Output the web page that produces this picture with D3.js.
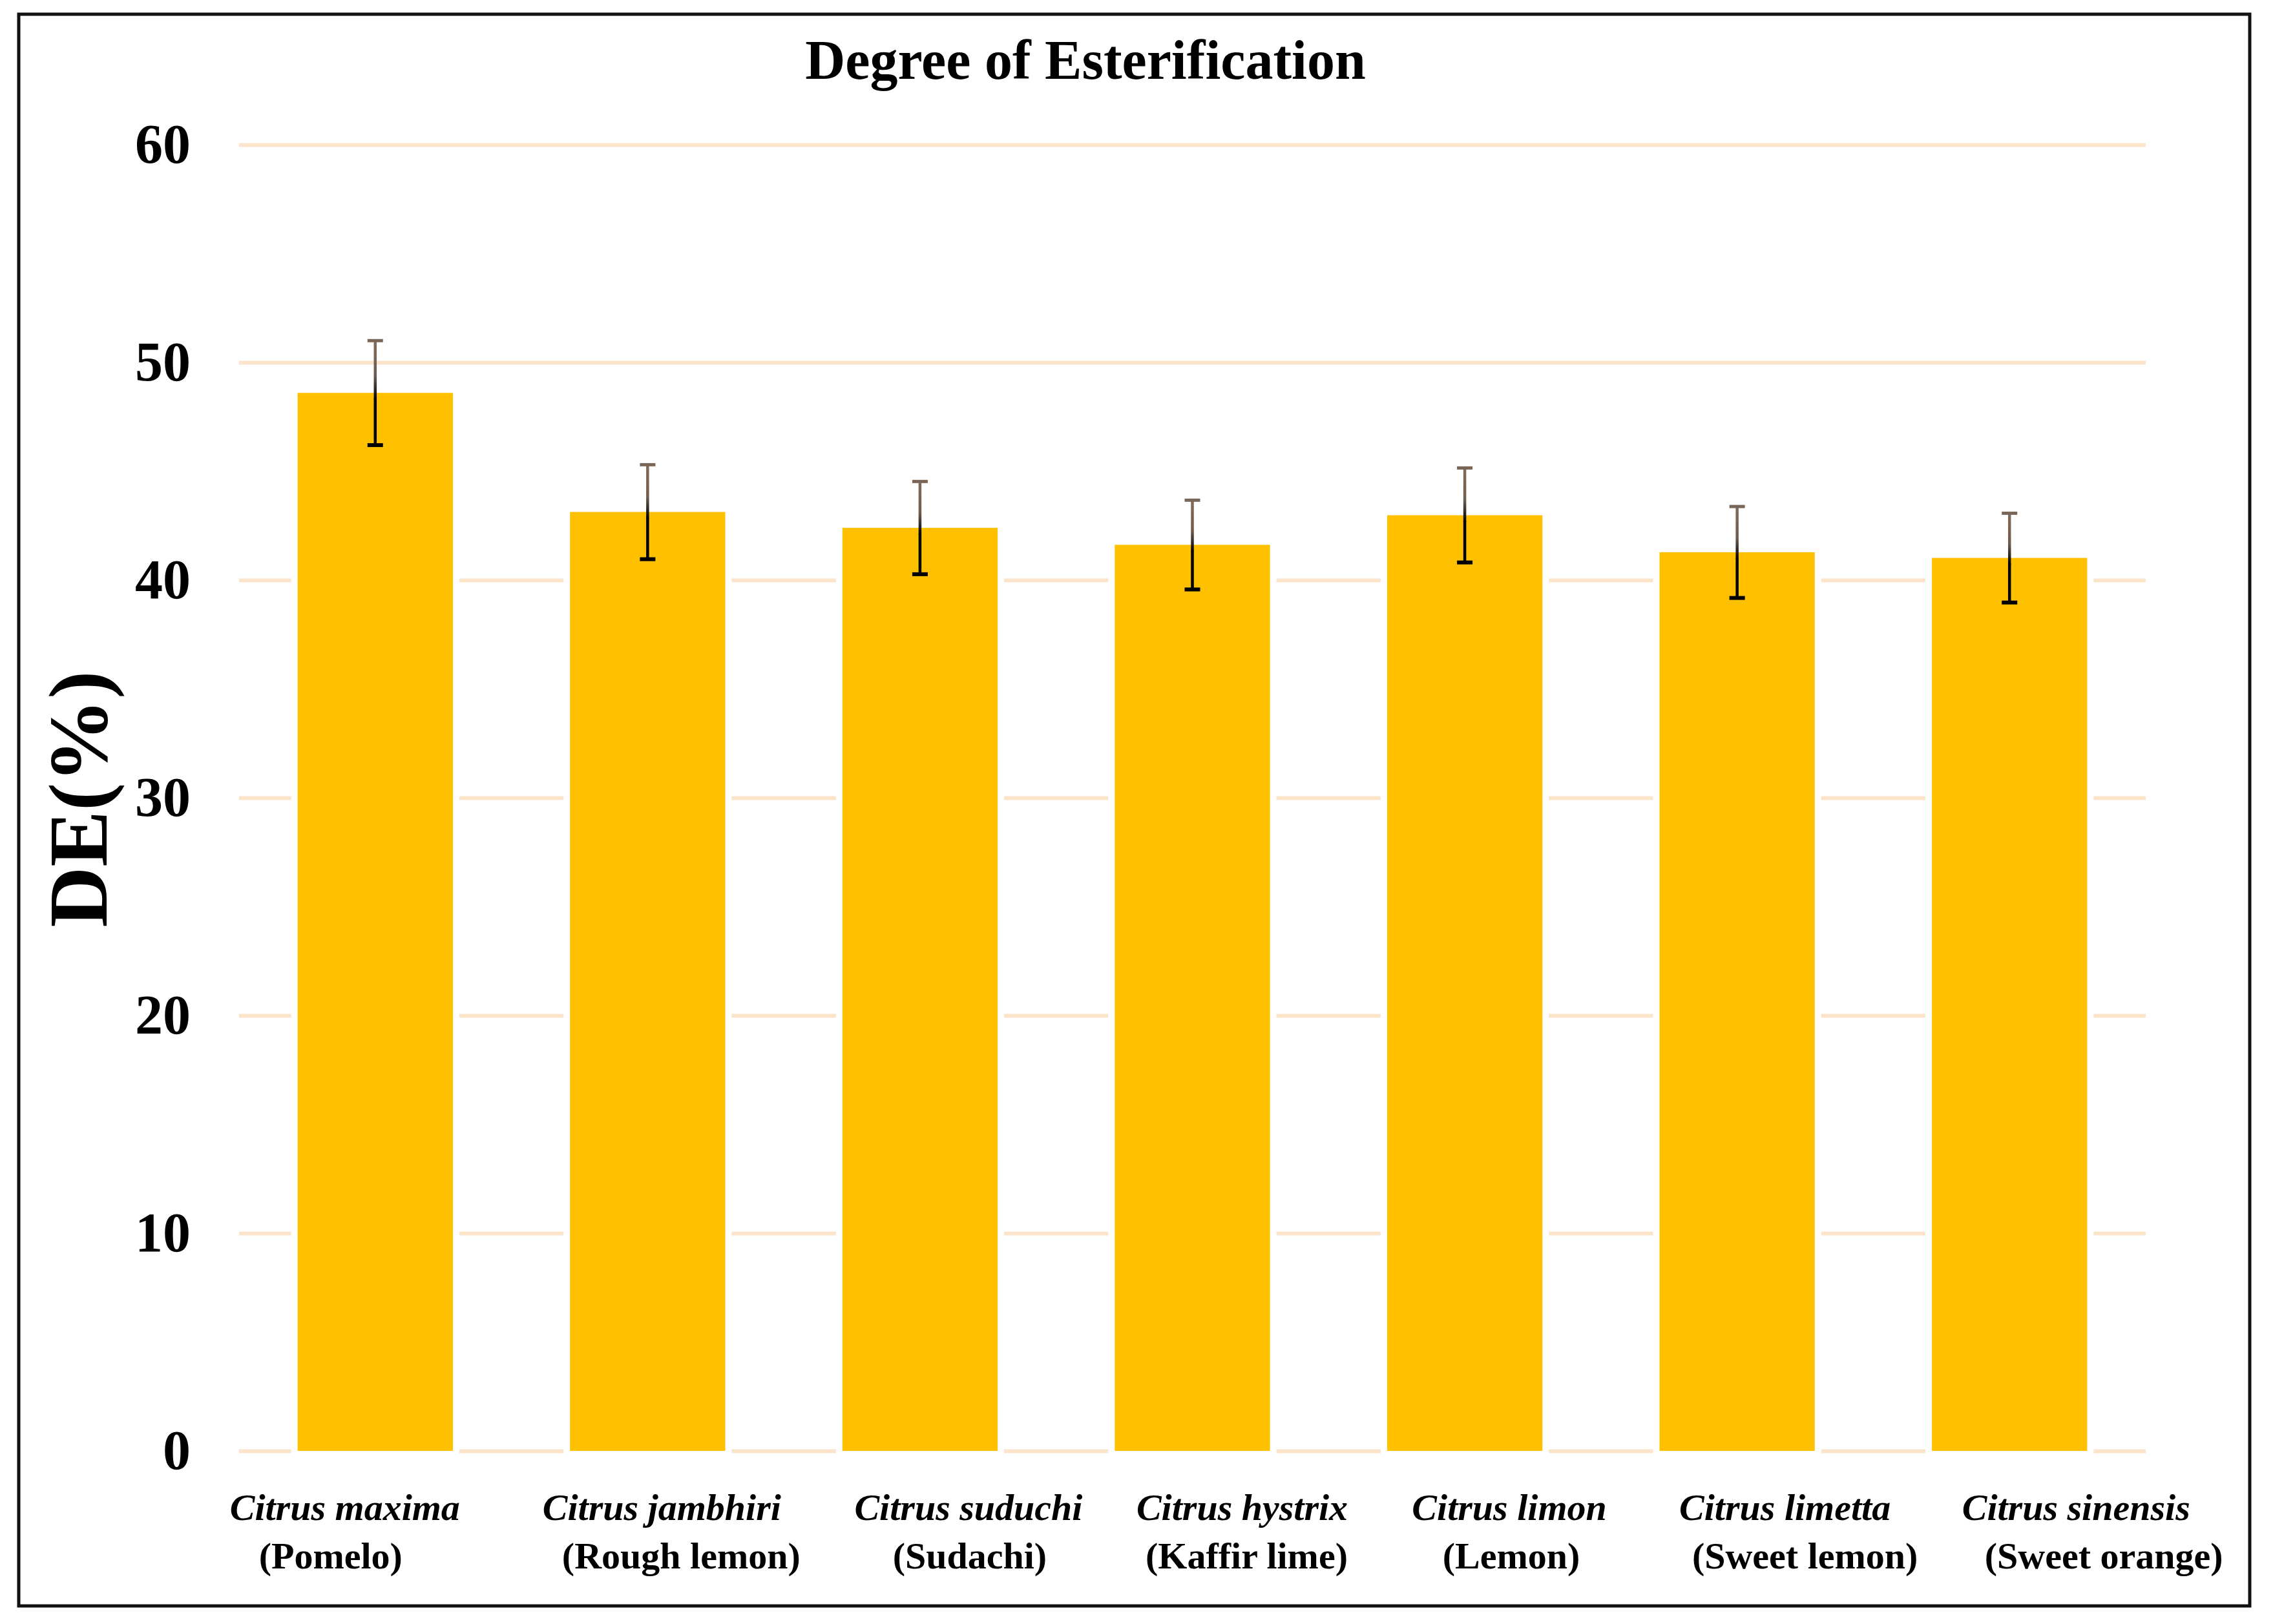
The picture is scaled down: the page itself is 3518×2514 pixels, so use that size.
<!DOCTYPE html>
<html>
  <head>
    <script src="https://d3js.org/d3.v7.min.js" charset="utf-8"></script>
    <meta charset="UTF-8">
    <title>Degree of Esterification</title>
    <style>
      body { margin: 0; background: #fff; }
      text { font-family: "Liberation Serif", "Times New Roman", serif; font-weight: bold; }
    </style>
  </head>
  <body>
    <svg class="chart"></svg>
    <script type="text/javascript">

     var width = 3518,
         height = 2514,
         left = 370, right = 3321,
         top0 = 224, bottom0 = 2246;

     // data
     var species = ["Citrus maxima", "Citrus jambhiri", "Citrus suduchi", "Citrus hystrix",
                    "Citrus limon", "Citrus limetta", "Citrus sinensis"];
     var commonNames = ["(Pomelo)", "(Rough lemon)", "(Sudachi)", "(Kaffir lime)",
                        "(Lemon)", "(Sweet lemon)", "(Sweet orange)"];
     var deValues = [48.6, 43.13, 42.4, 41.62, 42.98, 41.28, 41.02];
     var deErrors = [2.4, 2.17, 2.13, 2.05, 2.17, 2.1, 2.05];
     var yTicks = [0, 10, 20, 30, 40, 50, 60];

     // label nudges (the source labels sit a bit off the bar centres)
     var dx1 = [-47, 22, 75, 77, 69, 74, 103],
         dx2 = [-69, 52, 77, 84, 72, 105, 146];

     var svg = d3.select(".chart")
                 .attr("width", width)
                 .attr("height", height)
                 .attr("viewBox", "0 0 " + width + " " + height);

     var defs = svg.append("defs");
     defs.append("filter").attr("id", "glow")
         .attr("x", "-5").attr("y", "-1").attr("width", "11").attr("height", "3")
         .append("feGaussianBlur").attr("stdDeviation", 4);

     svg.append("rect")
        .attr("x", 29).attr("y", 22)
        .attr("width", 3453).attr("height", 2464)
        .attr("fill", "#fff")
        .attr("stroke", "#111")
        .attr("stroke-width", 5);

     var x = d3.scaleBand()
               .domain(species)
               .range([left, right])
               .paddingInner(0.43)
               .paddingOuter(0.215);

     var y = d3.scaleLinear()
               .domain([0, 60])
               .range([bottom0, top0]);

     // gridlines + tick labels
     var yAxis = svg.append("g")
                    .attr("transform", "translate(" + left + ",0)")
                    .call(d3.axisLeft(y)
                            .tickValues(yTicks)
                            .tickSizeInner(-(right - left))
                            .tickSizeOuter(0)
                            .tickPadding(75));
     yAxis.select(".domain").remove();
     yAxis.selectAll(".tick line")
          .attr("stroke", "#FCE4CB")
          .attr("stroke-width", 6);
     yAxis.selectAll(".tick text")
          .attr("fill", "#000")
          .attr("font-size", 86)
          .attr("font-family", "'Liberation Serif', 'Times New Roman', serif")
          .attr("font-weight", "bold");

     var rows = species.map(function(s, i) {
         return {name: s, common: commonNames[i], value: deValues[i], err: deErrors[i], i: i};
     });

     svg.append("g")
        .selectAll("rect")
        .data(rows)
        .enter().append("rect")
        .attr("x", function(d) { return x(d.name); })
        .attr("y", function(d) { return y(d.value); })
        .attr("width", x.bandwidth())
        .attr("height", function(d) { return y(0) - y(d.value); })
        .attr("fill", "#FFC000")
        .attr("stroke", "#fff")
        .attr("stroke-width", 20)
        .style("paint-order", "stroke");

     // error bars
     rows.forEach(function(d) {
         var cx = x(d.name) + x.bandwidth() / 2,
             yHi = y(d.value + d.err),
             yLo = y(d.value - d.err),
             yTop = y(d.value);
         var gid = "eg" + d.i;
         var g = defs.append("linearGradient").attr("id", gid)
                     .attr("gradientUnits", "userSpaceOnUse")
                     .attr("x1", 0).attr("x2", 0)
                     .attr("y1", yHi).attr("y2", yTop + 10);
         g.append("stop").attr("offset", 0).attr("stop-color", "#806c5c");
         g.append("stop").attr("offset", 0.6).attr("stop-color", "#6e5c4e");
         g.append("stop").attr("offset", 1).attr("stop-color", "#000");

         var eb = svg.append("g");
         eb.append("line")
           .attr("x1", cx).attr("x2", cx)
           .attr("y1", yTop).attr("y2", yLo + 4)
           .attr("stroke", "#fff200")
           .attr("stroke-width", 14)
           .attr("filter", "url(#glow)");
         eb.append("line")
           .attr("x1", cx).attr("x2", cx)
           .attr("y1", yHi).attr("y2", yTop + 10)
           .attr("stroke", "url(#" + gid + ")")
           .attr("stroke-width", 4.5);
         eb.append("line")
           .attr("x1", cx).attr("x2", cx)
           .attr("y1", yTop + 9).attr("y2", yLo)
           .attr("stroke", "#000")
           .attr("stroke-width", 4.5);
         eb.append("line")
           .attr("x1", cx - 12).attr("x2", cx + 12)
           .attr("y1", yHi).attr("y2", yHi)
           .attr("stroke", "#7a6656")
           .attr("stroke-width", 5);
         eb.append("line")
           .attr("x1", cx - 12).attr("x2", cx + 12)
           .attr("y1", yLo).attr("y2", yLo)
           .attr("stroke", "#000")
           .attr("stroke-width", 6);
     });

     // category labels, two lines
     var labels = svg.append("g").attr("text-anchor", "middle").attr("font-size", 58);
     labels.selectAll("text.l1")
           .data(rows)
           .enter().append("text")
           .attr("class", "l1")
           .attr("x", function(d) { return x(d.name) + x.bandwidth() / 2 + dx1[d.i]; })
           .attr("y", 2353)
           .attr("font-style", "italic")
           .text(function(d) { return d.name; });
     labels.selectAll("text.l2")
           .data(rows)
           .enter().append("text")
           .attr("class", "l2")
           .attr("x", function(d) { return x(d.name) + x.bandwidth() / 2 + dx2[d.i]; })
           .attr("y", 2428)
           .text(function(d) { return d.common; });

     svg.append("text")
        .attr("x", 1680).attr("y", 122)
        .attr("text-anchor", "middle")
        .attr("font-size", 86)
        .text("Degree of Esterification");

     svg.append("text")
        .attr("transform", "translate(165,1237) rotate(-90)")
        .attr("text-anchor", "middle")
        .attr("font-size", 130)
        .text("DE(%)");

    </script>
  </body>
</html>
